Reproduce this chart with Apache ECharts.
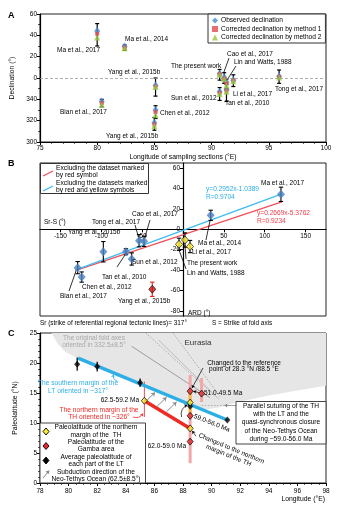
<!DOCTYPE html>
<html>
<head>
<meta charset="utf-8">
<script src="https://cdn.jsdelivr.net/npm/echarts@6/dist/echarts.min.js"></script>
<style>
  html, body { margin: 0; padding: 0; background: #fff; }
  #chart { width: 337px; height: 507px; }
</style>
</head>
<body>
<div id="chart"></div>
<script>
// ---------- Panel A: declination against longitude of sampling sections ----------
const aSites     = ['Ma et al., 2017', 'Ma et al., 2014', 'Bian et al., 2017', 'Yang et al., 2015b', 'Chen et al., 2012',
                    'Yang et al., 2015b', 'The present work', 'Cao et al., 2017', 'Lin and Watts, 1988', 'Tan et al., 2010',
                    'Li et al., 2017', 'Sun et al., 2012', 'Tong et al., 2017'];
const aLon       = [80.0, 82.4, 80.4, 85.1, 85.1, 85.0, 90.7, 91.1, 91.3, 91.3, 91.9, 90.7, 95.9];
const aObserved  = [44, 29.5, -22, -7, -30, -42, 4, 0.5, -4, -11, -2, -13, 1.5];
const aMethod1   = [41.5, 28.5, -23.5, -8, -32, -43.5, 3.5, -0.5, -5, -12, -2.5, -14, 1];
const aMethod2   = [38, 28, -25, -8.5, -35, -45, 3, -1, -7, -13, -3, -15, 0.5];
const aErrHigh   = [51, 31, -20, 0, -26, -37, 8, 5, -1, -6, 3, -9, 7.5];
const aErrLow    = [30, 26, -27, -17, -38, -49, -2, -5, -10, -22, -8, -21, -5];
const aLonTicks  = [75, 100, 5];
const aDecTicks  = [-60, 60, 20];

// ---------- Panel B: ARD against Sr-S ----------
const bBlueNames = ['Bian et al., 2017', 'Chen et al., 2012', 'Yang et al., 2015b', 'Tan et al., 2010', 'Sun et al., 2012',
                    'Tong et al., 2017', 'Cao et al., 2017', 'Ma et al., 2014', 'Ma et al., 2017'];
const bBlueX     = [-128.9, -124, -97.5, -69.8, -62.8, -53.8, -47.7, 33.9, 119.9];
const bBlueY     = [-37.6, -46.8, -22, -22, -29.1, -11.2, -11.8, 13.7, 34.3];
const bBlueErr   = [6, 5, 10, 3, 6, 6, 5, 5, 7];
const bYellowNames = ['Lin and Watts, 1988', 'The present work', 'Li et al., 2017'];
const bYellowX   = [-4.9, 2.4, 8.6];
const bYellowY   = [-14.7, -10.5, -16.9];
const bYellowErr = [6, 7, 6];
const bRedNames  = ['Yang et al., 2015b'];
const bRedX      = [-37.6];
const bRedY      = [-58.8];
const bRedErr    = [7];
// regression lines: slope, intercept, x extent
const fitBlue    = { slope: 0.2952, intercept: -1.0389, r: 0.9704, from: -132, to: 121 };
const fitRed     = { slope: 0.2669, intercept: -5.3762, r: 0.9234, from: -132, to: 121 };
const bXRange    = [-175, 175];
const bYRange    = [-85, 65];
const bXLabels   = [-150, -100, -50, 50, 100, 150];
const bYLabels   = [-80, -60, -40, -20, 0, 20, 40, 60];

// ---------- Panel C: paleolatitude against longitude ----------
const ltLon      = [80.6, 82.0, 85.0, 88.5, 91.1];
const ltLat      = [19.8, 19.4, 16.7, 12.8, 10.5];
const ltErr      = [1.1, 0.8, 0.7, 0, 0];
const thLon      = [85.3, 88.5, 88.5];
const thLat      = [13.7, 13.4, 9.1];
const gambaLon   = [88.5, 89.3, 88.5, 88.5];
const gambaLat   = [15.3, 14.9, 11.2, 6.9];
const ltMarginLon = [80.66, 91.1];
const ltMarginLat = [20.8, 10.5];
const thMarginLon = [85.3, 88.5];
const thMarginLat = [13.7, 9.1];
const pinkLon    = [88.5, 89.3];
const pinkLow    = [3.3, 13.5];
const pinkHigh   = [18.0, 17.5];
const orangeLon  = [88.5];
const orangeLow  = [11.5];
const orangeHigh = [15.0];
const thErrLon   = [85.3];
const thErrLow   = [11.0];
const thErrHigh  = [16.9];
const subLon     = [85.7, 86.5, 87.2];
const subLat     = [14.3, 13.5, 12.7];
const eurasiaLon = [78.8, 79.3, 79.8, 80.66, 89.5, 90.5, 92, 94, 96, 98, 98];
const eurasiaLat = [25, 23, 21.8, 20.8, 12.2, 12.6, 13.6, 14.6, 15.4, 16.2, 25];
const foldFrom   = [[84.4, 22.8], [85.4, 25.0], [86.3, 23.8], [87.3, 25.0]];
const foldTo     = [[89.9, 14.2], [90.2, 14.6], [90.5, 14.0], [90.6, 14.4]];

const FONT = '"Liberation Sans", Arial, Helvetica, sans-serif';
const BLUE_A = '#4b8fd6', RED_A = '#e5484d', GREEN_A = '#93c83e';
const BLUE_B = '#4a80c0', SKY = '#2eaee6', RED = '#ee2a24';

// plot rectangles
const GRID_A = { left: 40, top: 14, width: 286, height: 128 };
const GRID_B = { left: 40, top: 163, width: 286, height: 153 };
const GRID_C = { left: 40, top: 333, width: 286, height: 150 };

const chart = echarts.init(document.getElementById('chart'), null, { renderer: 'canvas' });

// vertical error bar drawn in axis units
function errorBars(xi, yi, xs, lo, hi, color, cap, width, z) {
  return {
    type: 'custom', xAxisIndex: xi, yAxisIndex: yi, silent: true, z: z || 3,
    data: xs.map((x, i) => [x, lo[i], hi[i]]),
    renderItem(params, api) {
      const p1 = api.coord([api.value(0), api.value(1)]);
      const p2 = api.coord([api.value(0), api.value(2)]);
      const st = { stroke: color, lineWidth: width };
      const kids = [{ type: 'line', shape: { x1: p1[0], y1: p1[1], x2: p2[0], y2: p2[1] }, style: st }];
      if (cap > 0) {
        kids.push({ type: 'line', shape: { x1: p1[0] - cap, y1: p1[1], x2: p1[0] + cap, y2: p1[1] }, style: st });
        kids.push({ type: 'line', shape: { x1: p2[0] - cap, y1: p2[1], x2: p2[0] + cap, y2: p2[1] }, style: st });
      }
      return { type: 'group', children: kids };
    }
  };
}
function segs(xi, yi, pairs, color, width, opts) {
  opts = opts || {};
  return {
    type: 'lines', coordinateSystem: 'cartesian2d', xAxisIndex: xi, yAxisIndex: yi, silent: true,
    z: opts.z || 3,
    symbol: opts.arrow ? ['none', 'arrow'] : ['none', 'none'],
    symbolSize: opts.arrowSize || 4,
    lineStyle: { color: color, width: width, type: opts.type || 'solid', curveness: opts.curve || 0, opacity: 1 },
    data: pairs.map(p => ({ coords: [p[0], p[1]] }))
  };
}
function axisBase(extra) {
  return Object.assign({
    type: 'value',
    axisLine: { show: true, onZero: false, lineStyle: { color: '#000', width: 1.2 } },
    axisTick: { show: true, length: 3, lineStyle: { color: '#000', width: 1 } },
    minorTick: { show: true, length: 1.8, lineStyle: { color: '#000', width: 0.8 } },
    axisLabel: { color: '#000', fontSize: 6.5, fontFamily: FONT, margin: 3 },
    splitLine: { show: false },
    nameTextStyle: { color: '#000', fontSize: 6.8, fontFamily: FONT }
  }, extra);
}
function txt(x, y, text, o) {
  o = o || {};
  return {
    type: 'text', x: x, y: y, rotation: o.rot || 0, z: 100, silent: true,
    style: {
      text: text, fontSize: o.size || 6.5, fontFamily: FONT, fill: o.color || '#000',
      fontWeight: o.bold ? 'bold' : 'normal',
      align: o.align || 'left', verticalAlign: 'middle', lineHeight: o.lh || 7.5
    }
  };
}

// annotation leader lines in data units
const aLeaders = [[[91.52, 18.7], [91.08, 5.6]], [[92.13, 11.2], [91.35, -1.9]]];
const bLeaders = [
  [[-40.4, 9.1], [-46.5, -7.5]], [[-58.7, 4.2], [-54.5, -7.5]], [[-80.8, -37], [-71, -25.2]],
  [[-139.5, -60.5], [-131, -40.9]], [[28.1, -10.5], [33, 8.1]], [[12.2, -20.3], [8.6, -17.4]],
  [[3.7, -29.1], [2.4, -15.4]], [[3.7, -38.9], [-4.9, -20.3]]
];

const fitLine = f => [[f.from, f.slope * f.from + f.intercept], [f.to, f.slope * f.to + f.intercept]];

// panel B axes cross at the origin: shift each axis inward to where the other axis is zero
const bXAxisShift = -(0 - bYRange[0]) / (bYRange[1] - bYRange[0]) * GRID_B.height;
const bYAxisShift = -(0 - bXRange[0]) / (bXRange[1] - bXRange[0]) * GRID_B.width;

const series = [
  // ----- A -----
  errorBars(0, 0, aLon, aErrLow, aErrHigh, '#000', 2, 1.2, 2),
  {
    name: 'Observed declination', type: 'scatter', xAxisIndex: 0, yAxisIndex: 0, z: 4,
    symbol: 'diamond', symbolSize: [6, 8], itemStyle: { color: BLUE_A },
    data: aLon.map((x, i) => [x, aObserved[i]]),
    markLine: {
      silent: true, symbol: 'none', label: { show: false },
      lineStyle: { color: '#9a9a9a', type: [3, 2], width: 0.8 }, data: [{ yAxis: 0 }]
    }
  },
  {
    name: 'Corrected declination by method 1', type: 'scatter', xAxisIndex: 0, yAxisIndex: 0, z: 5,
    symbol: 'rect', symbolSize: 4, itemStyle: { color: RED_A },
    data: aLon.map((x, i) => [x, aMethod1[i]])
  },
  {
    name: 'Corrected declination by method 2', type: 'scatter', xAxisIndex: 0, yAxisIndex: 0, z: 6,
    symbol: 'triangle', symbolSize: 6, itemStyle: { color: GREEN_A },
    data: aLon.map((x, i) => [x, aMethod2[i]])
  },
  segs(0, 0, aLeaders, '#000', 0.8),

  // ----- B -----
  { type: 'line', xAxisIndex: 1, yAxisIndex: 1, data: fitLine(fitRed), symbol: 'none', silent: true, z: 2,
    lineStyle: { color: '#f0505a', width: 1.3 } },
  { type: 'line', xAxisIndex: 1, yAxisIndex: 1, data: fitLine(fitBlue), symbol: 'none', silent: true, z: 2,
    lineStyle: { color: '#3fbcf0', width: 1.3 } },
  errorBars(1, 1, bBlueX, bBlueY.map((y, i) => y - bBlueErr[i]), bBlueY.map((y, i) => y + bBlueErr[i]), '#000', 2.2, 1.1, 3),
  errorBars(1, 1, bYellowX, bYellowY.map((y, i) => y - bYellowErr[i]), bYellowY.map((y, i) => y + bYellowErr[i]), '#000', 2.2, 1.1, 3),
  errorBars(1, 1, bRedX, bRedY.map((y, i) => y - bRedErr[i]), bRedY.map((y, i) => y + bRedErr[i]), '#e02020', 2.2, 1.1, 3),
  { type: 'scatter', xAxisIndex: 1, yAxisIndex: 1, z: 5, symbol: 'diamond', symbolSize: [8, 9],
    itemStyle: { color: BLUE_B }, data: bBlueX.map((x, i) => [x, bBlueY[i]]) },
  { type: 'scatter', xAxisIndex: 1, yAxisIndex: 1, z: 5, symbol: 'diamond', symbolSize: [7, 8],
    itemStyle: { color: '#ffee33', borderColor: '#000', borderWidth: 0.8 }, data: bYellowX.map((x, i) => [x, bYellowY[i]]) },
  { type: 'scatter', xAxisIndex: 1, yAxisIndex: 1, z: 5, symbol: 'diamond', symbolSize: [7, 8],
    itemStyle: { color: '#cc1111', borderColor: '#000', borderWidth: 0.8 }, data: bRedX.map((x, i) => [x, bRedY[i]]) },
  segs(1, 1, bLeaders, '#000', 0.8),

  // ----- C -----
  {
    type: 'custom', xAxisIndex: 2, yAxisIndex: 2, silent: true, z: 1, data: [0],
    renderItem(params, api) {
      return {
        type: 'polygon',
        shape: { points: eurasiaLon.map((x, i) => api.coord([x, eurasiaLat[i]])) },
        style: { fill: '#e6e6e6', stroke: 'none' }
      };
    }
  },
  segs(2, 2, [[foldFrom[0], foldTo[0]]], '#8a8a8a', 0.8, { z: 2 }),
  segs(2, 2, [[foldFrom[2], foldTo[2]]], '#b0b0b0', 0.8, { z: 2 }),
  segs(2, 2, [[foldFrom[1], foldTo[1]], [foldFrom[3], foldTo[3]]], '#9a9a9a', 0.8, { z: 2, type: [1.5, 1.5] }),
  errorBars(2, 2, pinkLon, pinkLow, pinkHigh, '#f4a7a9', 0, 3, 2),
  errorBars(2, 2, orangeLon, orangeLow, orangeHigh, '#f6b94a', 0, 3, 3),
  errorBars(2, 2, thErrLon, thErrLow, thErrHigh, '#ee3b3b', 0, 0.9, 3),
  { type: 'line', xAxisIndex: 2, yAxisIndex: 2, symbol: 'none', silent: true, z: 3,
    lineStyle: { color: SKY, width: 3.5 }, data: ltMarginLon.map((x, i) => [x, ltMarginLat[i]]) },
  { type: 'line', xAxisIndex: 2, yAxisIndex: 2, symbol: 'none', silent: true, z: 3,
    lineStyle: { color: RED, width: 3.5 }, data: thMarginLon.map((x, i) => [x, thMarginLat[i]]) },
  errorBars(2, 2, ltLon, ltLat.map((y, i) => y - ltErr[i]), ltLat.map((y, i) => y + ltErr[i]), '#000', 0, 1.2, 4),
  segs(2, 2, subLon.map((x, i) => [[x - 0.35, subLat[i] - 0.8], [x + 0.35, subLat[i] + 0.8]]), '#8c8c8c', 1,
       { arrow: true, arrowSize: 4, z: 4 }),
  // pointers around the 88.5°E cluster
  segs(2, 2, [[[89.4, 19.17], [88.63, 15.83]], [[89.15, 15.05], [88.72, 15.3]], [[88.9, 7.8], [88.65, 8.7]]], '#000', 0.7,
       { arrow: true, arrowSize: 3, z: 6 }),
  segs(2, 2, [[[87.9, 11.0], [88.3, 13.0]]], '#000', 0.7, { arrow: true, arrowSize: 3, curve: 0.4, z: 6 }),
  segs(2, 2, [[[83.4, 17.0], [83.15, 18.1]]], SKY, 0.8, { arrow: true, arrowSize: 3, curve: 0.5, z: 6 }),
  segs(2, 2, [[[84.5, 11.0], [85.2, 11.6]]], RED, 0.8, { arrow: true, arrowSize: 3, curve: -0.4, z: 6 }),
  segs(2, 2, [[[91.75, 12.9], [90.9, 12.9]]], '#777', 0.7, { arrow: true, arrowSize: 3, z: 6 }),
  segs(2, 2, [[[90.9, 12.9], [89.2, 12.9]]], '#999', 0.7, { type: [1.5, 1.5], z: 6 }),
  { type: 'scatter', xAxisIndex: 2, yAxisIndex: 2, z: 7, symbol: 'diamond', symbolSize: [6, 7],
    itemStyle: { color: '#000' }, data: ltLon.map((x, i) => [x, ltLat[i]]) },
  { type: 'scatter', xAxisIndex: 2, yAxisIndex: 2, z: 7, symbol: 'diamond', symbolSize: [6, 7],
    itemStyle: { color: '#ffee33', borderColor: '#000', borderWidth: 0.9 }, data: thLon.map((x, i) => [x, thLat[i]]) },
  { type: 'scatter', xAxisIndex: 2, yAxisIndex: 2, z: 7, symbol: 'diamond', symbolSize: [6, 7],
    itemStyle: { color: '#e8252b', borderColor: '#000', borderWidth: 0.9 }, data: gambaLon.map((x, i) => [x, gambaLat[i]]) }
];

// text labels
const g = [];
g.push(txt(8, 16, 'A', { size: 9, bold: true }), txt(8, 164, 'B', { size: 9, bold: true }), txt(8, 334, 'C', { size: 9, bold: true }));
// A site labels
[
  [100, 50, aSites[0], 'right'], [125, 39, aSites[1]], [108, 72, aSites[3]], [60, 112, aSites[2]],
  [160, 113, aSites[4]], [106, 136, aSites[5]], [171, 66, aSites[6]], [227, 54, aSites[7]],
  [234, 62, aSites[8]], [233, 94, aSites[10]], [171, 98, aSites[11]], [225, 103, aSites[9]], [275, 89, aSites[12]]
].forEach(l => g.push(txt(l[0], l[1], l[2], { align: l[3] || 'left' })));
// B site labels
[
  [132, 214, bBlueNames[6]], [92, 222, bBlueNames[5]], [68, 232, bBlueNames[2]], [132, 262, bBlueNames[4]],
  [102, 277, bBlueNames[3]], [82, 287, bBlueNames[1]], [60, 296, bBlueNames[0]], [118, 301, bRedNames[0]],
  [198, 243, bBlueNames[7]], [192, 252, bYellowNames[2]], [187, 263, bYellowNames[1]], [187, 273, bYellowNames[0]],
  [261, 183, bBlueNames[8]]
].forEach(l => g.push(txt(l[0], l[1], l[2])));
g.push(txt(206, 193, 'y=' + fitBlue.slope.toFixed(4) + 'x' + fitBlue.intercept.toFixed(4) + '\nR=' + fitBlue.r.toFixed(4), { color: SKY, lh: 8, size: 6.6 }));
g.push(txt(257, 217, 'y=' + fitRed.slope.toFixed(4) + 'x' + fitRed.intercept.toFixed(4) + '\nR=' + fitRed.r.toFixed(4), { color: '#f0404a', lh: 8, size: 6.6 }));
g.push(txt(44, 222, 'Sr-S (°)'), txt(188, 313, 'ARD (°)'));
// B legend
g.push({ type: 'rect', shape: { x: 40.5, y: 163.5, width: 108, height: 30 }, style: { fill: '#fff', stroke: '#333', lineWidth: 1 }, z: 90, silent: true });
g.push({ type: 'line', shape: { x1: 43, y1: 176, x2: 53, y2: 171 }, style: { stroke: '#f0505a', lineWidth: 1.3 }, z: 91, silent: true });
g.push({ type: 'line', shape: { x1: 43, y1: 191, x2: 53, y2: 186 }, style: { stroke: '#3fbcf0', lineWidth: 1.3 }, z: 91, silent: true });
g.push(txt(56, 171.5, 'Excluding the dataset marked\nby red symbol', { size: 6.7, lh: 7 }));
g.push(txt(56, 187, 'Excluding the datasets marked\nby red and yellow symbols', { size: 6.7, lh: 7 }));
// between B and C
g.push(txt(40, 323, 'Sr (strike of referential regional tectonic lines)= 317°', { size: 6.4 }));
g.push(txt(212, 323, 'S = Strike of fold axis', { size: 6.4 }));
// C annotations
g.push(txt(198, 343, 'Eurasia', { size: 8, color: '#333', align: 'center' }));
g.push(txt(94, 342, 'The original fold axes\noriented in 332.5±8.5°', { color: '#a8a8a8', align: 'center', lh: 7 }));
g.push(txt(78, 387, 'The southern margin of the\nLT oriented in ~317°', { color: SKY, align: 'center', lh: 8, size: 6.7 }));
g.push(txt(139, 400, '62.5-59.2 Ma', { align: 'right' }));
g.push(txt(99, 413.5, 'The northern margin of the\nTH oriented in ~326°', { color: RED, align: 'center', lh: 7.5, size: 6.7 }));
g.push(txt(186, 446, '62.0-59.0 Ma', { align: 'right' }));
g.push(txt(244, 366, 'Changed to the reference\npoint of 28.3 °N /88.5 °E', { align: 'center', lh: 6.5 }));
g.push(txt(204, 393, '51.0-49.5 Ma'));
g.push(txt(194, 416, '59.0-56.0 Ma', { rot: -0.38 }));
g.push(txt(230, 452, 'Changed to the northern\nmargin of the TH', { rot: -0.39, align: 'center', lh: 7.5 }));
g.push({ type: 'rect', shape: { x: 236, y: 401.5, width: 90, height: 42.5 }, style: { fill: '#fff', stroke: '#444', lineWidth: 1 }, z: 90, silent: true });
g.push(txt(281, 422.5, 'Parallel suturing of the TH\nwith the LT and the\nquasi-synchronous closure\nof the Neo-Tethys Ocean\nduring ~59.0-56.0 Ma', { align: 'center', lh: 8.2, size: 6.6 }));
// C legend
g.push({ type: 'rect', shape: { x: 40, y: 423, width: 105.5, height: 60 }, style: { fill: '#fff', stroke: '#444', lineWidth: 1 }, z: 90, silent: true });
function legDiamond(cx, cy, fill) {
  g.push({ type: 'polygon', shape: { points: [[cx, cy - 3.5], [cx + 3, cy], [cx, cy + 3.5], [cx - 3, cy]] },
           style: { fill: fill, stroke: '#000', lineWidth: 0.9 }, z: 91, silent: true });
}
legDiamond(46, 431.5, '#ffee33'); legDiamond(46, 446, '#e8252b'); legDiamond(46, 460.5, '#000');
g.push({ type: 'line', shape: { x1: 43, y1: 478, x2: 48.5, y2: 471.5 }, style: { stroke: '#888', lineWidth: 1 }, z: 91, silent: true });
g.push({ type: 'polygon', shape: { points: [[49.5, 470.3], [45.6, 471.6], [48.6, 474.2]] }, style: { fill: '#888' }, z: 91, silent: true });
g.push(txt(96, 431.3, 'Paleolatitude of the northern\nmargin of the  TH', { align: 'center', lh: 7.3, size: 6.6 }));
g.push(txt(96, 446, 'Paleolatitude of the\nGamba area', { align: 'center', lh: 7.3, size: 6.6 }));
g.push(txt(96, 460.5, 'Average paleolatitude of\neach part of the LT', { align: 'center', lh: 7.3, size: 6.6 }));
g.push(txt(96, 475.5, 'Subduction direction of the\nNeo-Tethys Ocean (62.5±8.5°)', { align: 'center', lh: 7.3, size: 6.6 }));
g.push(txt(325, 499, 'Longitude (°E)', { align: 'right', size: 6.8 }));

const gridOpt = r => Object.assign({ show: true, borderColor: '#222', borderWidth: 1, outerBoundsMode: 'none' }, r);

const option = {
  animation: false,
  backgroundColor: '#fff',
  textStyle: { fontFamily: FONT },
  grid: [gridOpt(GRID_A), gridOpt(GRID_B), gridOpt(GRID_C)],
  legend: {
    show: true, orient: 'vertical', left: 208, top: 14,
    data: ['Observed declination', 'Corrected declination by method 1', 'Corrected declination by method 2'],
    padding: [3, 4, 2, 4], itemGap: 1.5, itemWidth: 6, itemHeight: 6,
    borderColor: '#333', borderWidth: 1, backgroundColor: '#fff',
    textStyle: { fontSize: 6.6, fontFamily: FONT, color: '#000', padding: [0, 0, 0, -2] }
  },
  xAxis: [
    axisBase({ gridIndex: 0, min: aLonTicks[0], max: aLonTicks[1], interval: aLonTicks[2],
      minorTick: { show: true, splitNumber: 5, length: 1.8, lineStyle: { color: '#000', width: 0.8 } },
      name: 'Longitude of sampling sections (°E)', nameLocation: 'middle', nameGap: 12 }),
    axisBase({ gridIndex: 1, min: bXRange[0], max: bXRange[1], offset: bXAxisShift,
      axisTick: { show: true, length: 3, customValues: bXLabels, lineStyle: { color: '#000', width: 1 } },
      minorTick: { show: false },
      axisLabel: { color: '#000', fontSize: 6.5, fontFamily: FONT, margin: 3, customValues: bXLabels } }),
    axisBase({ gridIndex: 2, min: 78, max: 98, interval: 2,
      minorTick: { show: true, splitNumber: 4, length: 1.8, lineStyle: { color: '#000', width: 0.8 } },
      axisLabel: { color: '#000', fontSize: 6.5, fontFamily: FONT, margin: 5 } })
  ],
  yAxis: [
    axisBase({ gridIndex: 0, min: aDecTicks[0], max: aDecTicks[1], interval: aDecTicks[2],
      minorTick: { show: true, splitNumber: 2, length: 1.8, lineStyle: { color: '#000', width: 0.8 } },
      axisLabel: { color: '#000', fontSize: 6.5, fontFamily: FONT, margin: 3, formatter: v => (v < 0 ? v + 360 : v) },
      name: 'Declination (°)', nameLocation: 'middle', nameGap: 18 }),
    axisBase({ gridIndex: 1, min: bYRange[0], max: bYRange[1], offset: bYAxisShift,
      axisTick: { show: true, length: 3, customValues: bYLabels, lineStyle: { color: '#000', width: 1 } },
      minorTick: { show: false },
      axisLabel: { color: '#000', fontSize: 6.5, fontFamily: FONT, margin: 3, customValues: bYLabels } }),
    axisBase({ gridIndex: 2, min: 0, max: 25, interval: 5,
      minorTick: { show: true, splitNumber: 5, length: 1.8, lineStyle: { color: '#000', width: 0.8 } },
      name: 'Paleolatitude (°N)', nameLocation: 'middle', nameGap: 16 })
  ],
  series: series,
  graphic: g
};
chart.setOption(option);
</script>
</body>
</html>
